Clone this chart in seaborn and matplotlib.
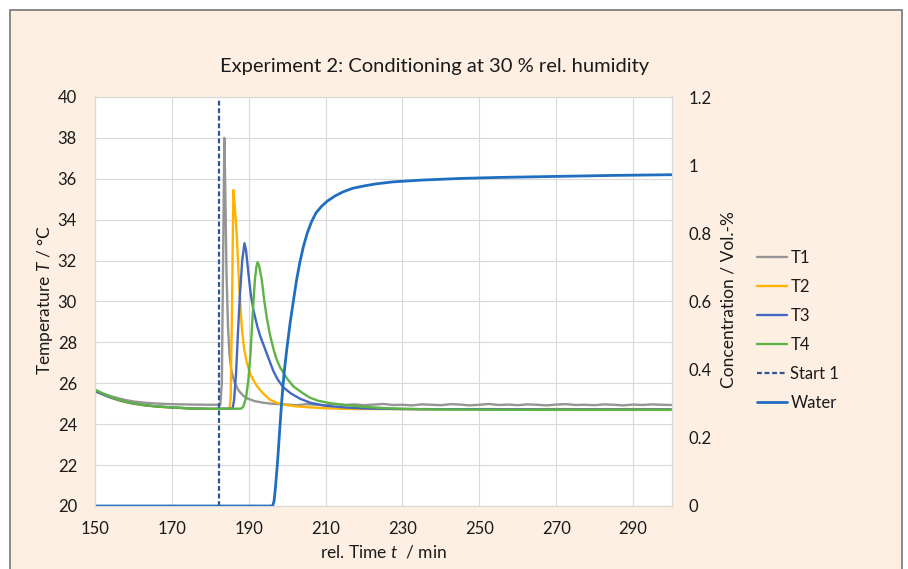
import matplotlib
matplotlib.use("Agg")
import matplotlib.pyplot as plt
import seaborn as sns
import pandas as pd
from matplotlib.patches import Rectangle
from matplotlib.lines import Line2D

# ---------------- data ----------------
t1_time = [150, 152, 154, 156, 158, 160, 163, 166, 170, 175, 180, 182.6, 183.0, 183.3, 183.65,
           183.9, 184.2, 184.6, 185.0, 185.5, 186.2, 187.3, 188.4, 189.5, 191.5, 193.8, 196, 198,
           200, 202.5, 205, 207.5, 210, 212.5, 215, 217.5, 220, 222.5, 225, 227.5, 230, 232.5,
           235, 237.5, 240, 242.5, 245, 247.5, 250, 252.5, 255, 257.5, 260, 262.5, 265, 267.5,
           270, 272.5, 275, 277.5, 280, 282.5, 285, 287.5, 290, 292.5, 295, 297.5, 300]
t1_temp = [25.65, 25.50, 25.38, 25.27, 25.18, 25.11, 25.05, 25.01, 24.98, 24.96, 24.95, 24.95, 26.0,
           31.5, 38.0, 35.5, 31.5, 28.8, 27.4, 26.6, 26.1, 25.67, 25.42, 25.27, 25.13, 25.05, 25.00,
           24.98, 24.96, 24.93, 24.98, 24.95, 24.92, 24.99, 24.94, 24.97, 24.93, 24.96, 24.99, 24.94,
           24.95, 24.92, 24.97, 24.95, 24.93, 24.98, 24.96, 24.92, 24.95, 24.99, 24.94, 24.96, 24.93,
           24.97, 24.95, 24.92, 24.96, 24.98, 24.94, 24.95, 24.93, 24.97, 24.95, 24.92, 24.96, 24.94,
           24.97, 24.95, 24.94]

t2_time = [150, 152, 154, 156, 158, 160, 163, 166, 170, 175, 180, 185.0, 185.3, 185.6, 186.0, 186.4,
           186.9, 187.5, 188.2, 188.8, 189.5, 190.5, 192.0, 193.5, 195.5, 197.5, 199.5, 202, 206, 210,
           215, 220, 230, 240, 250, 260, 270, 280, 290, 300]
t2_temp = [25.60, 25.45, 25.30, 25.18, 25.08, 25.00, 24.92, 24.86, 24.81, 24.77, 24.75, 24.75, 25.3,
           29.0, 35.45, 34.6, 33.2, 30.8, 28.7, 27.7, 27.0, 26.4, 25.9, 25.55, 25.2, 25.03, 24.95,
           24.88, 24.82, 24.78, 24.75, 24.74, 24.74, 24.73, 24.74, 24.73, 24.74, 24.73, 24.74, 24.73]

t3_time = [150, 152, 154, 156, 158, 160, 163, 166, 170, 175, 180, 185.8, 186.2, 186.7, 187.2, 187.7,
           188.3, 188.9, 189.3, 189.9, 190.5, 191.2, 192.2, 193.0, 193.8, 195.0, 196.4, 197.5, 199,
           201, 203.3, 206, 210, 215, 220, 230, 250, 270, 300]
t3_temp = [25.62, 25.46, 25.31, 25.19, 25.09, 25.01, 24.93, 24.87, 24.82, 24.77, 24.75, 24.76, 25.2,
           26.5, 28.5, 30.3, 32.0, 32.85, 32.5, 31.4, 30.4, 29.6, 28.8, 28.3, 27.9, 27.3, 26.6, 26.2,
           25.8, 25.5, 25.25, 25.05, 24.9, 24.82, 24.77, 24.74, 24.73, 24.72, 24.72]

t4_time = [150, 152, 154, 156, 158, 160, 163, 166, 170, 175, 180, 188.0, 188.6, 189.3, 189.9, 190.4,
           190.8, 191.2, 191.6, 192.0, 192.3, 192.7, 193.4, 194.0, 194.7, 195.5, 196.4, 197.2, 198.1,
           199.9, 201.6, 204.2, 205.9, 208, 211, 216, 220, 226, 234.6, 250, 270, 300]
t4_temp = [25.70, 25.50, 25.34, 25.21, 25.10, 25.02, 24.93, 24.87, 24.82, 24.77, 24.75, 24.76, 24.86,
           25.3, 26.16, 27.3, 28.6, 29.9, 31.05, 31.7, 31.92, 31.75, 31.05, 30.1, 29.2, 28.4, 27.7,
           27.2, 26.8, 26.25, 25.85, 25.5, 25.3, 25.15, 25.03, 24.92, 24.85, 24.78, 24.73, 24.71,
           24.70, 24.70]

start_time = [182.3, 182.3]
start_temp = [20, 40]

water_time = [150, 196.2, 196.6, 197.0, 197.5, 198.1, 198.6, 199.2, 199.9, 200.8, 201.6, 202.4,
              203.3, 204.2, 205.2, 206.3, 207.5, 209.0, 210.5, 212.5, 214.6, 217, 220, 223, 227.6,
              234.6, 245, 255, 265, 275, 285, 300]
water_conc = [0, 0, 0.015, 0.06, 0.13, 0.23, 0.31, 0.39, 0.46, 0.54, 0.60, 0.66, 0.715, 0.76, 0.80,
              0.833, 0.86, 0.88, 0.895, 0.91, 0.922, 0.932, 0.939, 0.945, 0.951, 0.956, 0.961,
              0.964, 0.966, 0.968, 0.970, 0.972]

x_ticks = [150, 170, 190, 210, 230, 250, 270, 290]
y_ticks = [20, 22, 24, 26, 28, 30, 32, 34, 36, 38, 40]
y2_ticks = [0, 0.2, 0.4, 0.6, 0.8, 1.0, 1.2]
y2_labels = ["0", "0.2", "0.4", "0.6", "0.8", "1", "1.2"]

# ---------------- style ----------------
sns.set_theme(style="white")
plt.rcParams["font.family"] = ["Lato", "DejaVu Sans"]
plt.rcParams["mathtext.fontset"] = "custom"
plt.rcParams["mathtext.it"] = "Lato:italic"
plt.rcParams["mathtext.rm"] = "Lato"

C_T1 = "#959595"
C_T2 = "#FFB300"
C_T3 = "#4468C2"
C_T4 = "#5DB346"
C_START = "#2F5597"
C_WATER = "#1F6EC0"
TXT = "#1a1a1a"

fig = plt.figure(figsize=(9.08, 5.69), dpi=100)
fig.patch.set_facecolor("white")
fig.patches.append(Rectangle((10 / 908, -0.02), 892 / 908, 1.02 - 10 / 569,
                             transform=fig.transFigure, facecolor="#FDF0E3",
                             edgecolor="#808080", lw=1.3, zorder=-10))

ax = fig.add_axes([95 / 908, 1 - 506 / 569, 576.5 / 908, 409 / 569])
ax.set_facecolor("white")
ax2 = ax.twinx()
ax.set_zorder(1)
ax2.set_zorder(2)

df = pd.concat([
    pd.DataFrame({"time": t1_time, "temp": t1_temp, "series": "T1"}),
    pd.DataFrame({"time": t2_time, "temp": t2_temp, "series": "T2"}),
    pd.DataFrame({"time": t3_time, "temp": t3_temp, "series": "T3"}),
    pd.DataFrame({"time": t4_time, "temp": t4_temp, "series": "T4"}),
])
pal = {"T1": C_T1, "T2": C_T2, "T3": C_T3, "T4": C_T4}
sns.lineplot(data=df, x="time", y="temp", hue="series", palette=pal, ax=ax,
             linewidth=1.7, legend=False, estimator=None, sort=False)
sns.lineplot(x=start_time, y=start_temp, ax=ax, color=C_START, linewidth=1.6,
             estimator=None, sort=False)
ax.lines[-1].set_dashes([2.2, 1.2])
sns.lineplot(x=water_time, y=water_conc, ax=ax2, color=C_WATER, linewidth=2.0,
             estimator=None, sort=False)

ax.set_xlim(150, 300)
ax.set_ylim(20, 40)
ax2.set_ylim(0, 1.2)
ax.set_xticks(x_ticks)
ax.set_yticks(y_ticks)
ax2.set_yticks(y2_ticks)
ax2.set_yticklabels(y2_labels)
ax.grid(True, color="#D9D9D9", lw=0.8)
ax.set_axisbelow(True)
for a in (ax, ax2):
    for s in a.spines.values():
        s.set_color("#D9D9D9")
        s.set_linewidth(0.8)
    a.set_xlabel("")
    a.set_ylabel("")
ax.tick_params(axis="both", length=0, labelsize=12, colors=TXT)
ax.tick_params(axis="y", pad=13)
ax.tick_params(axis="x", pad=11)
ax2.tick_params(axis="y", length=0, labelsize=12, colors=TXT, pad=12.5)

fig.text(435 / 908, 1 - 66 / 569, "Experiment 2: Conditioning at 30 % rel. humidity",
         ha="center", va="center", fontsize=14.5, color=TXT)
fig.text(45 / 908, 1 - 300 / 569, "Temperature $T$ / °C", rotation=90,
         ha="center", va="center", fontsize=12.5, color=TXT)
fig.text(728 / 908, 1 - 300 / 569, "Concentration / Vol.-%", rotation=90,
         ha="center", va="center", fontsize=12.5, color=TXT)
fig.text(383 / 908, 1 - 552 / 569, "rel. Time $t$  / min",
         ha="center", va="center", fontsize=12.5, color=TXT)

handles = [Line2D([], [], color=C_T1, lw=1.7), Line2D([], [], color=C_T2, lw=1.7),
           Line2D([], [], color=C_T3, lw=1.7), Line2D([], [], color=C_T4, lw=1.7),
           Line2D([], [], color=C_START, lw=1.6, dashes=[2.2, 1.2]),
           Line2D([], [], color=C_WATER, lw=2.0)]
labels = ["T1", "T2", "T3", "T4", "Start 1", "Water"]
fig.legend(handles, labels, loc="upper left", bbox_to_anchor=(757 / 908, 1 - 250 / 569),
           frameon=False, fontsize=12, handlelength=1.8, handletextpad=0.2,
           labelspacing=0.78, borderpad=0, borderaxespad=0, labelcolor=TXT)

fig.savefig("out.png", dpi=100)
